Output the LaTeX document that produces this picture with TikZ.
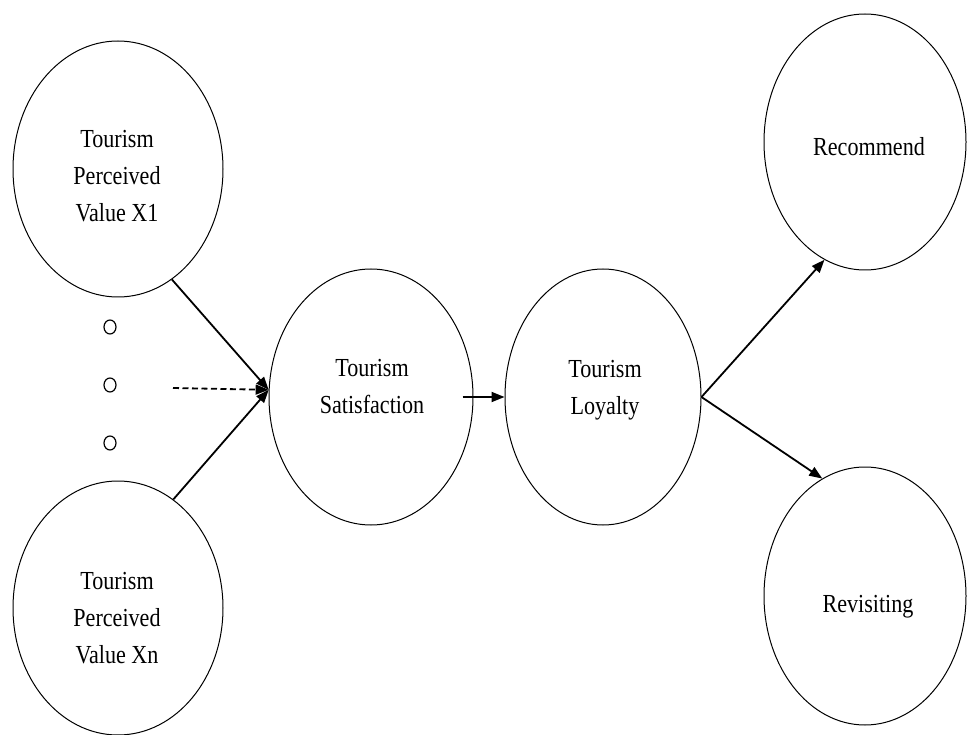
\documentclass[tikz,border=0pt]{standalone}
\usepackage{fontspec}
\setmainfont[FakeStretch=0.85]{Liberation Serif}
\usetikzlibrary{shapes.geometric,arrows.meta}

\begin{document}
\begin{tikzpicture}[x=1pt,y=-1pt,
  construct/.style={draw, ellipse, line width=1pt, inner sep=0pt},
  lbl/.style={align=center, inner sep=0pt,
    font=\fontsize{26}{37}\selectfont},
  hollowdot/.style={draw, ellipse, line width=1.2pt, inner sep=0pt,
    minimum width=12pt, minimum height=14pt},
  path/.style={line width=1.8pt,
    -{Triangle[length=13pt,width=10pt]}}
]
\useasboundingbox (0,0) rectangle (967,735);

% latent constructs
\node[construct, minimum width=210pt, minimum height=256pt] (x1)  at (118,169) {};
\node[construct, minimum width=210pt, minimum height=254pt] (xn)  at (118,608) {};
\node[construct, minimum width=204pt, minimum height=256pt] (sat) at (371,397) {};
\node[construct, minimum width=196pt, minimum height=256pt] (loy) at (603,397) {};
\node[construct, minimum width=202pt, minimum height=256pt] (rec) at (865,142) {};
\node[construct, minimum width=202pt, minimum height=258pt] (rev) at (865,596) {};

% construct labels
\node[lbl] (x1t)  at (117,176) {Tourism\\Perceived\\Value X1};
\node[lbl] (xnt)  at (117,618) {Tourism\\Perceived\\Value Xn};
\node[lbl] (satt) at (372,387) {Tourism\\Satisfaction};
\node[lbl] (loyt) at (605,390) {Tourism\\Loyalty};
\node[lbl] (rect) at (869,147) {Recommend};
\node[lbl] (revt) at (868,607) {Revisiting};

% ellipsis between the perceived-value constructs
\node[hollowdot] (d1) at (110,327) {};
\node[hollowdot] (d2) at (110,385) {};
\node[hollowdot] (d3) at (110,443) {};

% structural paths
\coordinate (dstart) at (173,388);
\draw[path] (x1.-64) -- (sat.176);
\draw[path] (xn.63) -- (sat.176);
\draw[path, dash pattern=on 6pt off 3.5pt] (dstart) -- (sat.176);
\draw[path] ([xshift=-11pt]sat.east) -- (loy.west);
\draw[path] (loy.east) -- (rec.251);
\draw[path] (loy.east) -- (rev.110);
\end{tikzpicture}
\end{document}
